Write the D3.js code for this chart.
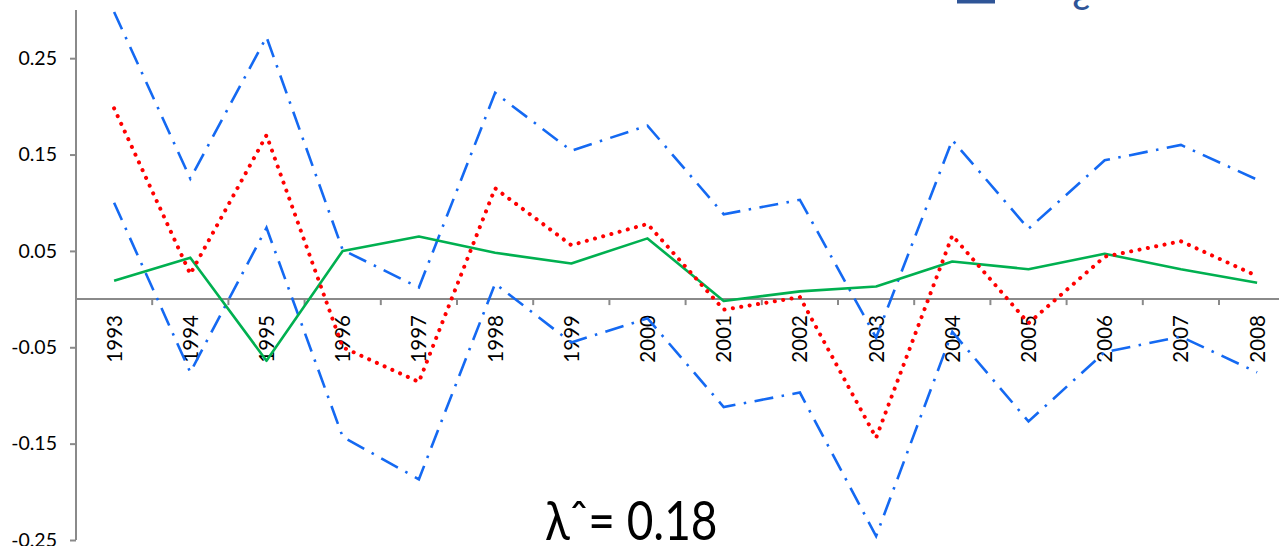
<!DOCTYPE html>
<html>
<head>
<meta charset="utf-8">
<script src="https://cdn.jsdelivr.net/npm/d3@7"></script>
<style>
  html, body { margin: 0; padding: 0; background: #fff; }
  svg { display: block; }
  text { font-family: Lato, "Open Sans", sans-serif; }
</style>
</head>
<body>
<svg id="chart" width="1279" height="546"></svg>
<script>
// Yearly estimates with upper / lower bands
const years = [1993,1994,1995,1996,1997,1998,1999,2000,2001,2002,2003,2004,2005,2006,2007,2008];
const upperBand = [0.298,0.125,0.272,0.051,0.012,0.214,0.154,0.180,0.088,0.103,-0.040,0.165,0.073,0.144,0.160,0.124];
const estimate  = [0.198,0.026,0.170,-0.050,-0.086,0.115,0.056,0.078,-0.011,0.002,-0.144,0.066,-0.025,0.044,0.060,0.024];
const lowerBand = [0.100,-0.076,0.074,-0.143,-0.187,0.016,-0.045,-0.020,-0.112,-0.097,-0.246,-0.034,-0.127,-0.055,-0.039,-0.076];
const observed  = [0.019,0.043,-0.064,0.050,0.065,0.048,0.037,0.063,-0.002,0.008,0.013,0.039,0.031,0.047,0.031,0.017];
const yTicks = [-0.25,-0.15,-0.05,0.05,0.15,0.25];
const lambdaLabel = "λˆ= 0.18";

const svg = d3.select("#chart");
const W = 1279, H = 546;
const axisX = 76;

const x = d3.scaleBand().domain(years).range([axisX, axisX + 16 * 76.2]).paddingInner(0).paddingOuter(0);
const y = d3.scaleLinear().domain([-0.25, 0.3]).range([540, 10]);
const cx = d => x(d) + x.bandwidth() / 2;

const axisColor = "#8a8a8a";

// Y axis
const yAxis = d3.axisLeft(y)
  .tickValues(yTicks)
  .tickSize(6)
  .tickPadding(13)
  .tickFormat(v => (v < 0 ? "-" : "") + Math.abs(v).toFixed(2));
const gy = svg.append("g").attr("transform", `translate(${axisX},0)`).call(yAxis);
gy.select(".domain").attr("stroke", axisColor).attr("stroke-width", 2)
  .attr("d", `M0,${y(0.3)}V${y(-0.25)}`);
gy.selectAll(".tick line").attr("stroke", axisColor).attr("stroke-width", 2);
gy.selectAll(".tick text").attr("fill", "#000").style("font-size", "19.5px")
  .style("font-family", "Lato, sans-serif");

// X axis along zero
const zeroY = y(0);
const gx = svg.append("g");
gx.append("line")
  .attr("x1", axisX).attr("x2", W)
  .attr("y1", zeroY).attr("y2", zeroY)
  .attr("stroke", axisColor).attr("stroke-width", 2);
gx.selectAll("line.tk").data(years.slice(1)).join("line")
  .attr("class", "tk")
  .attr("x1", d => x(d)).attr("x2", d => x(d))
  .attr("y1", zeroY).attr("y2", zeroY + 6)
  .attr("stroke", axisColor).attr("stroke-width", 2);
gx.selectAll("text").data(years).join("text")
  .attr("transform", d => `translate(${cx(d) + 7.5},${zeroY + 16}) rotate(-90)`)
  .attr("text-anchor", "end")
  .style("font-size", "20.5px")
  .attr("fill", "#000")
  .text(d => d);

// Series lines
const line = vals => d3.line().x((d, i) => cx(years[i])).y(d => y(d))(vals);

svg.append("path").attr("d", line(upperBand))
  .attr("fill", "none").attr("stroke", "#1469f2").attr("stroke-width", 2.6)
  .attr("stroke-dasharray", "19,8.5,2.5,8.5");
svg.append("path").attr("d", line(lowerBand))
  .attr("fill", "none").attr("stroke", "#1469f2").attr("stroke-width", 2.6)
  .attr("stroke-dasharray", "19,8.5,2.5,8.5");
svg.append("path").attr("d", line(observed))
  .attr("fill", "none").attr("stroke", "#00b050").attr("stroke-width", 2.6)
  .attr("stroke-linejoin", "round");
svg.append("path").attr("d", line(estimate))
  .attr("fill", "none").attr("stroke", "#ff0000").attr("stroke-width", 4)
  .attr("stroke-linecap", "round").attr("stroke-dasharray", "0.1,8.4");

// Lambda annotation
svg.append("text")
  .attr("transform", "translate(545,540) scale(1,1.18)")
  .style("font-size", "46px")
  .attr("fill", "#000")
  .text(lambdaLabel);

// Partial heading glyphs along the top edge
svg.append("rect").attr("x", 957).attr("y", 0).attr("width", 38).attr("height", 3.5)
  .attr("fill", "#2f5597");
svg.append("text").attr("x", 1072).attr("y", 10)
  .style("font-size", "40px").attr("fill", "#2f5597")
  .text("ε");
</script>
</body>
</html>
